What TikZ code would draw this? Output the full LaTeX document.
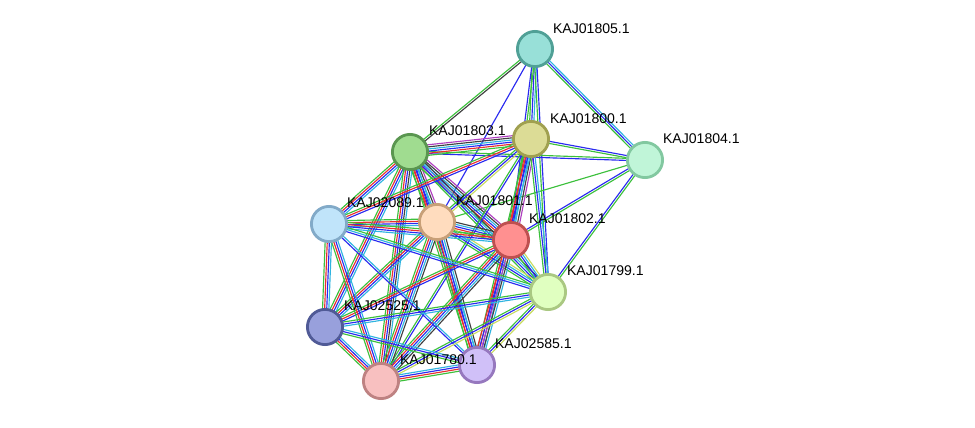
\documentclass[tikz,border=0pt]{standalone}
\usepackage{fontspec}
\setmainfont{Liberation Sans}
\usetikzlibrary{calc,backgrounds}
\definecolor{stgreen}{HTML}{3CC03C}
\definecolor{stred}{HTML}{E83030}
\definecolor{stblue}{HTML}{2A2AF0}
\definecolor{stcyan}{HTML}{30B4E0}
\definecolor{stblack}{HTML}{404040}
\definecolor{stmag}{HTML}{B040C0}
\definecolor{styel}{HTML}{C8DC60}
\tikzset{
  prot/.style={circle, inner sep=0pt, line width=1.6pt, minimum size=0.704cm},
  lbl/.style={font=\fontsize{8}{9}\selectfont, inner sep=1pt},
  lnkline/.style={line width=0.65pt}
}
% one link = several parallel coloured lines
\newcommand\lnk[4]{%
  \foreach \c [count=\i] in {#3} {
    \pgfmathsetmacro\off{(\i-(#4+1)/2)*1.2}
    \draw[lnkline, \c] ($(#1)!\off pt!90:(#2)$) -- ($(#2)!\off pt!-90:(#1)$);
  }}
\begin{document}
\begin{tikzpicture}[x=0.02cm, y=-0.02cm]
  \useasboundingbox (0,0) rectangle (975,427);

  % Proteins
  \node[prot, draw={rgb,255:red,80;green,160;blue,150}, fill={rgb,255:red,152;green,224;blue,216}] (p1805) at (535,49) {};
  \node[prot, draw={rgb,255:red,160;green,160;blue,80}, fill={rgb,255:red,220;green,220;blue,150}] (p1800) at (531,139) {};
  \node[prot, draw={rgb,255:red,130;green,200;blue,160}, fill={rgb,255:red,192;green,245;blue,216}] (p1804) at (645,160) {};
  \node[prot, draw={rgb,255:red,90;green,150;blue,80}, fill={rgb,255:red,160;green,220;blue,144}] (p1803) at (410,152) {};
  \node[prot, draw={rgb,255:red,130;green,170;blue,200}, fill={rgb,255:red,192;green,228;blue,250}] (p2089) at (329,224) {};
  \node[prot, draw={rgb,255:red,200;green,160;blue,120}, fill={rgb,255:red,255;green,220;blue,190}] (p1801) at (437,222) {};
  \node[prot, draw={rgb,255:red,190;green,80;blue,80}, fill={rgb,255:red,255;green,144;blue,144}] (p1802) at (511,240) {};
  \node[prot, draw={rgb,255:red,170;green,200;blue,130}, fill={rgb,255:red,224;green,255;blue,192}] (p1799) at (548,292) {};
  \node[prot, draw={rgb,255:red,80;green,90;blue,150}, fill={rgb,255:red,152;green,160;blue,220}] (p2525) at (325,327) {};
  \node[prot, draw={rgb,255:red,190;green,130;blue,130}, fill={rgb,255:red,248;green,192;blue,192}] (p1780) at (381,381) {};
  \node[prot, draw={rgb,255:red,150;green,120;blue,190}, fill={rgb,255:red,208;green,192;blue,248}] (p2585) at (477,365) {};

  % Labels
  \node[lbl, anchor=south west] (l1805) at (551,36) {KAJ01805.1};
  \node[lbl, anchor=south west] (l1800) at (548,126) {KAJ01800.1};
  \node[lbl, anchor=south west] (l1804) at (661,146) {KAJ01804.1};
  \node[lbl, anchor=south west] (l1803) at (427,138) {KAJ01803.1};
  \node[lbl, anchor=south west] (l2089) at (345,210) {KAJ02089.1};
  \node[lbl, anchor=south west] (l1801) at (454,208) {KAJ01801.1};
  \node[lbl, anchor=south west] (l1802) at (527,226) {KAJ01802.1};
  \node[lbl, anchor=south west] (l1799) at (565,278) {KAJ01799.1};
  \node[lbl, anchor=south west] (l2525) at (342,313) {KAJ02525.1};
  \node[lbl, anchor=south west] (l1780) at (398,367) {KAJ01780.1};
  \node[lbl, anchor=south west] (l2585) at (493,351) {KAJ02585.1};

  \begin{scope}[on background layer]
    % outer links
    \lnk{p1805}{p1803}{stgreen,stblack}{2}
    \lnk{p1805}{p1800}{stgreen,stblue,stcyan}{3}
    \lnk{p1805}{p1804}{stgreen,stblue,stcyan}{3}
    \lnk{p1805}{p1802}{stblue,stgreen}{2}
    \lnk{p1805}{p1801}{stblue}{1}
    \lnk{p1805}{p1799}{stgreen,stblue}{2}
    \lnk{p1800}{p1804}{stgreen,stblue}{2}
    \lnk{p1803}{p1804}{stblue,stgreen}{2}
    \lnk{p1801}{p1804}{stgreen}{1}
    \lnk{p1802}{p1804}{stgreen,stblue}{2}
    \lnk{p1799}{p1804}{stgreen,stblue}{2}
    % core links
    \lnk{p1803}{p1800}{stgreen,stred,stblue,stcyan,stblack,stmag}{6}
    \lnk{p1803}{p1801}{stgreen,stred,stblue,stcyan,stblack,stmag}{6}
    \lnk{p1803}{p1802}{stgreen,stred,stblue,stcyan,stblack,stmag}{6}
    \lnk{p1803}{p2089}{stgreen,stred,stblue,stcyan}{4}
    \lnk{p1803}{p1799}{stgreen,stblue,stcyan,stblack}{4}
    \lnk{p1803}{p2525}{stgreen,stred,stblue,stcyan}{4}
    \lnk{p1803}{p1780}{stgreen,stred,stblue,stblack,stcyan}{5}
    \lnk{p1803}{p2585}{stgreen,stred,stblue,stcyan}{4}
    \lnk{p1800}{p1801}{stgreen,stblue,styel}{3}
    \lnk{p1800}{p1802}{stgreen,stred,stblue,stcyan,stblack,stmag}{6}
    \lnk{p1800}{p1799}{stgreen,stblue,stcyan}{3}
    \lnk{p1800}{p2089}{stgreen,stred,stblue}{3}
    \lnk{p1800}{p2585}{stgreen,stred,stblue,stcyan}{4}
    \lnk{p1800}{p1780}{stgreen,stblue}{2}
    \lnk{p1801}{p1802}{stgreen,stred,stblue,stcyan,stblack}{5}
    \lnk{p1801}{p2089}{stgreen,stred,stblue,stcyan}{4}
    \lnk{p1801}{p1799}{stgreen,stblue,stcyan,styel}{4}
    \lnk{p1801}{p2525}{stgreen,stred,stblue,stcyan}{4}
    \lnk{p1801}{p1780}{stgreen,stred,stblue,stcyan,stblack}{5}
    \lnk{p1801}{p2585}{stgreen,stred,stblue,stcyan,stblack}{5}
    \lnk{p1802}{p2089}{stgreen,stred,stblue,stcyan}{4}
    \lnk{p1802}{p1799}{stgreen,stblue,stcyan,styel}{4}
    \lnk{p1802}{p2525}{stgreen,stred,stblue}{3}
    \lnk{p1802}{p1780}{stgreen,stred,stblue,stcyan,stblack}{5}
    \lnk{p1802}{p2585}{stred,stblue,stmag,stblack,stcyan}{5}
    \lnk{p2089}{p1799}{stblue,stcyan,stgreen}{3}
    \lnk{p2089}{p2525}{stgreen,stred,stblue,stcyan}{4}
    \lnk{p2089}{p1780}{stgreen,stred,stblue,stcyan}{4}
    \lnk{p2089}{p2585}{stblue,stcyan}{2}
    \lnk{p1799}{p2525}{stgreen,stblue,stcyan}{3}
    \lnk{p1799}{p1780}{stgreen,stblue,styel}{3}
    \lnk{p1799}{p2585}{stgreen,stblue,styel}{3}
    \lnk{p2525}{p1780}{stgreen,stred,stblue,stcyan}{4}
    \lnk{p2525}{p2585}{stgreen,stblue,stcyan}{3}
    \lnk{p1780}{p2585}{stgreen,stred,stblue,stcyan}{4}
  \end{scope}
\end{tikzpicture}
\end{document}
